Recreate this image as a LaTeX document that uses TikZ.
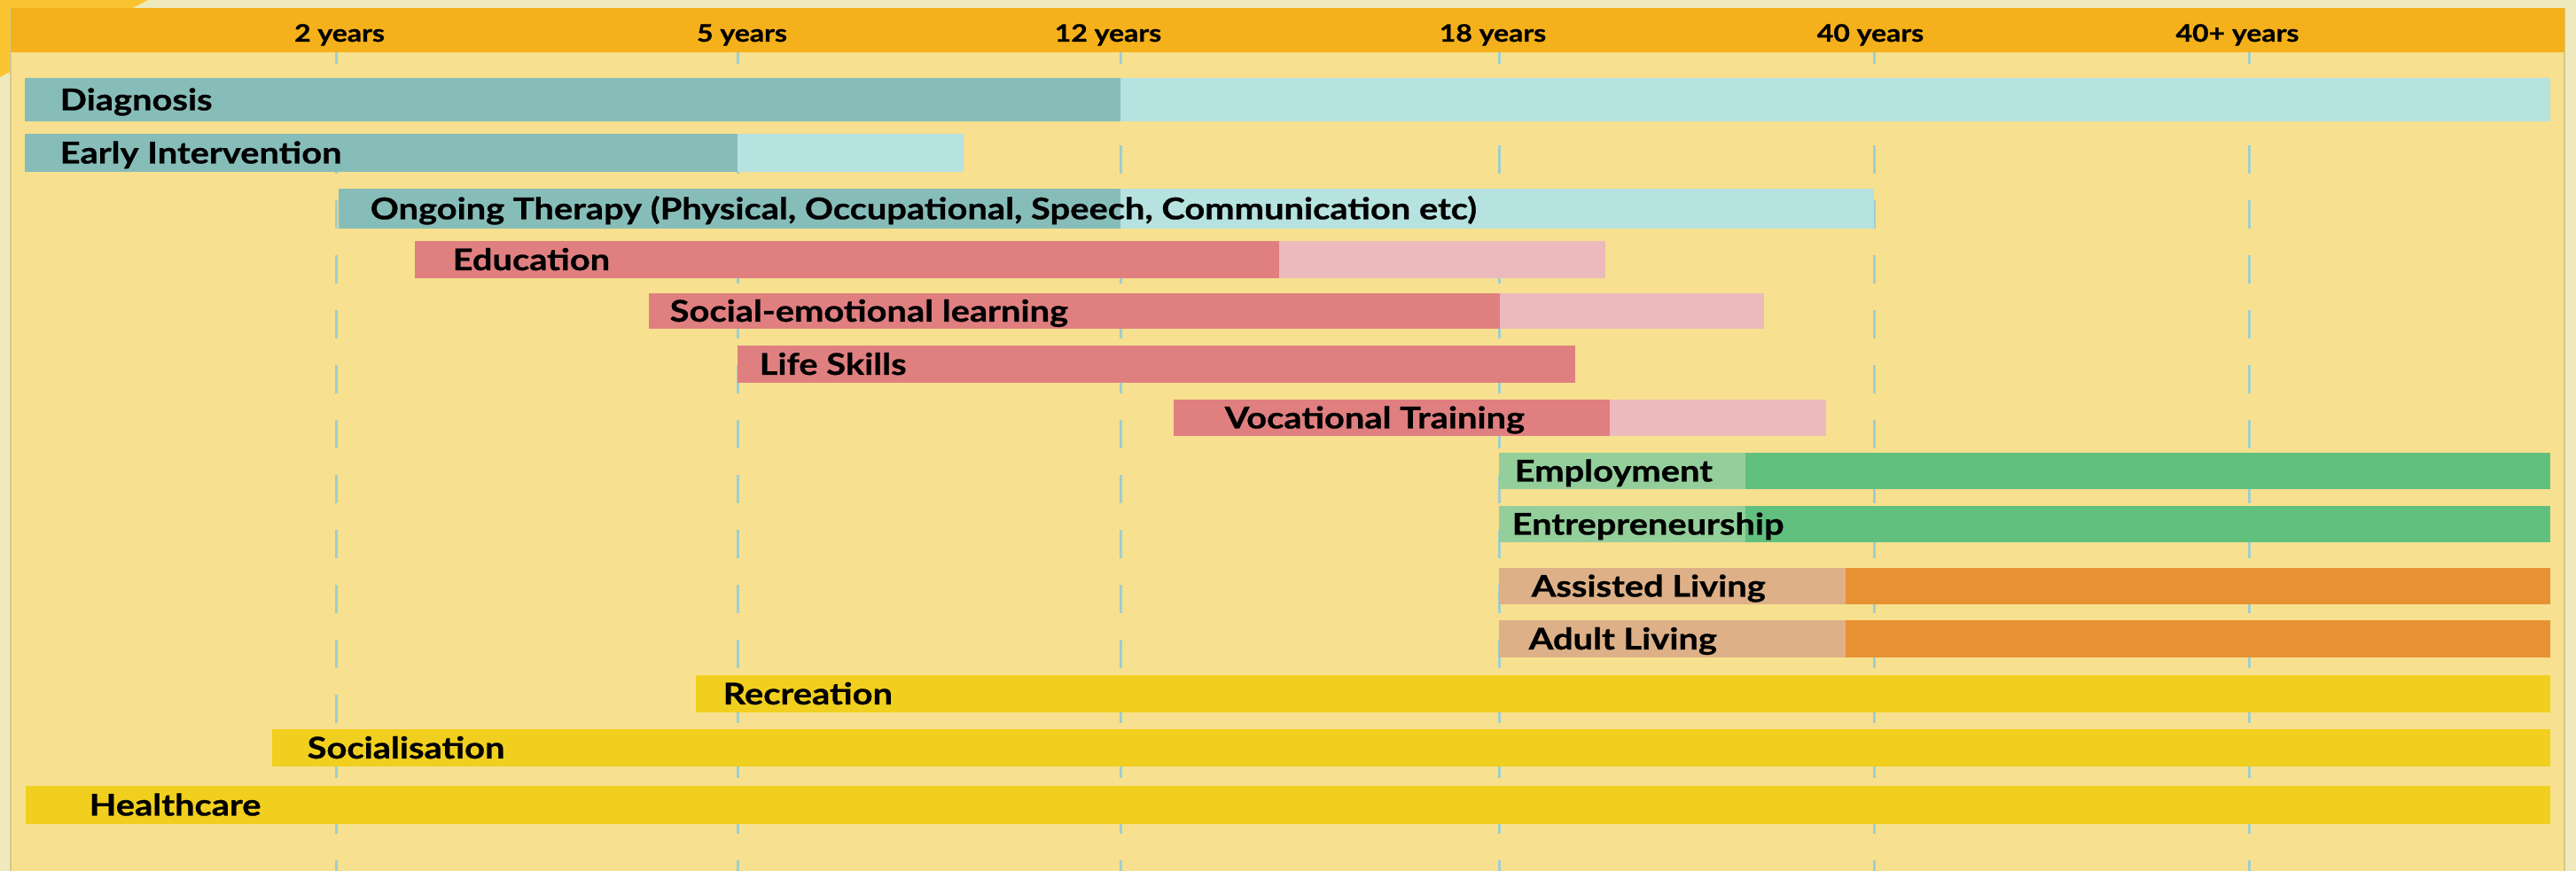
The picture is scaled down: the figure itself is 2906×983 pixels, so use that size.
\documentclass[tikz,border=0pt]{standalone}
\usepackage{fontspec}
\setmainfont{Lato}[FakeStretch=1.18, BoldFeatures={FakeBold=0.8}]
\usepackage{tikz}
\usepackage{xcolor}

\definecolor{creme}{RGB}{239,234,189}
\definecolor{ecke}{RGB}{250,196,48}
\definecolor{panel}{RGB}{247,224,143}
\definecolor{kopf}{RGB}{245,177,27}
\definecolor{rand}{RGB}{214,200,140}
\definecolor{strich}{RGB}{158,207,207}
\definecolor{tuerkis}{RGB}{135,189,184}
\definecolor{tuerkishell}{RGB}{182,226,224}
\definecolor{rot}{RGB}{224,127,128}
\definecolor{rosa}{RGB}{236,186,189}
\definecolor{gruenhell}{RGB}{148,207,155}
\definecolor{gruen}{RGB}{98,192,127}
\definecolor{sand}{RGB}{221,176,136}
\definecolor{orange}{RGB}{230,146,50}
\definecolor{gelb}{RGB}{241,207,30}

\begin{document}
\begin{tikzpicture}[x=0.01cm, y=-0.01cm,
    lbl/.style={anchor=base west, inner sep=0, font=\fontsize{9.6}{11}\selectfont\bfseries},
    yrs/.style={anchor=base, inner sep=0, font=\fontsize{7.7}{9}\selectfont\bfseries},
    linie/.style={strich, line width=0.03cm, dash pattern=on 0.32cm off 0.30cm},
]

% background and panel
\fill[creme] (0,0) rectangle (2906,983);
\useasboundingbox (0,0) rectangle (2906,983);
\fill[ecke] (0,0) -- (167,0) -- (0,87) -- cycle;
\fill[panel] (12,9) rectangle (2893,983);
\draw[rand, line width=0.02cm] (12,9) -- (12,983);
\draw[rand, line width=0.02cm] (2893,9) -- (2893,983);

% age lines
\draw[linie] (379,40) -- (379,983);
\draw[linie] (832,40) -- (832,983);
\draw[linie] (1264,40) -- (1264,983);
\draw[linie] (1691,40) -- (1691,983);
\draw[linie] (2114,40) -- (2114,983);
\draw[linie] (2537,40) -- (2537,983);

% header
\fill[kopf] (12,9) rectangle (2893,59);
\node[yrs] (y2) at (383,47) {2 years};
\node[yrs] (y5) at (837,47) {5 years};
\node[yrs] (y12) at (1250,47) {12 years};
\node[yrs] (y18) at (1684,47) {18 years};
\node[yrs] (y40) at (2110,47) {40 years};
\node[yrs] (y40p) at (2524,47) {40+ years};

% therapy
\fill[tuerkis] (28,88) rectangle (1264,137);
\fill[tuerkishell] (1264,88) rectangle (2877,137);
\fill[tuerkis] (28,151) rectangle (832,194);
\fill[tuerkishell] (832,151) rectangle (1087,194);
\fill[tuerkis] (382,213) rectangle (1264,258);
\fill[tuerkishell] (1264,213) rectangle (2114,258);

% learning
\fill[rot] (468,272) rectangle (1443,314);
\fill[rosa] (1443,272) rectangle (1811,314);
\fill[rot] (732,331) rectangle (1692,371);
\fill[rosa] (1692,331) rectangle (1990,371);
\fill[rot] (832,390) rectangle (1777,432);
\fill[rot] (1324,451) rectangle (1816,492);
\fill[rosa] (1816,451) rectangle (2060,492);

% work
\fill[gruenhell] (1691,511) rectangle (1969,552);
\fill[gruen] (1969,511) rectangle (2877,552);
\fill[gruenhell] (1691,571) rectangle (1969,612);
\fill[gruen] (1969,571) rectangle (2877,612);

% living
\fill[sand] (1691,641) rectangle (2082,682);
\fill[orange] (2082,641) rectangle (2877,682);
\fill[sand] (1691,700) rectangle (2082,742);
\fill[orange] (2082,700) rectangle (2877,742);

% lifelong
\fill[gelb] (785,762) rectangle (2877,804);
\fill[gelb] (307,823) rectangle (2877,865);
\fill[gelb] (29,887) rectangle (2877,930);

\node[lbl] (diag) at (67,124.5) {Diagnosis};
\node[lbl] (ei) at (67,184.5) {Early Intervention};
\node[lbl] (ther) at (417,247.5) {Ongoing Therapy (Physical, Occupational, Speech, Communication etc)};
\node[lbl] (edu) at (510,305) {Education};
\node[lbl] (sel) at (755,363) {Social-emotional learning};
\node[lbl] (life) at (856,423) {Life Skills};
\node[lbl] (voc) at (1381,483.5) {Vocational Training};
\node[lbl] (emp) at (1708,543.5) {Employment};
\node[lbl] (ent) at (1705,603.5) {Entrepreneurship};
\node[lbl] (ass) at (1727,673.5) {Assisted Living};
\node[lbl] (adult) at (1724,733) {Adult Living};
\node[lbl] (rec) at (815,795) {Recreation};
\node[lbl] (soc) at (346,856) {Socialisation};
\node[lbl] (health) at (100,920.5) {Healthcare};

\end{tikzpicture}
\end{document}
